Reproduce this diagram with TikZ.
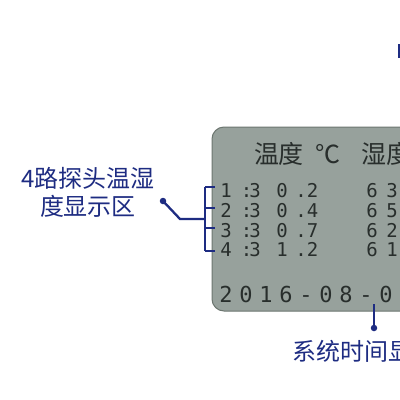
\documentclass[tikz,border=0pt]{standalone}
\usepackage{fontspec}
\newfontfamily\cjk{Noto Sans CJK SC}
\newfontfamily\lcdfont{DejaVu Sans Mono}
\definecolor{labelblue}{RGB}{30,44,130}
\definecolor{lcdfill}{RGB}{151,161,156}
\definecolor{lcdedge}{RGB}{108,118,112}
\definecolor{lcdtext}{RGB}{40,46,44}
\tikzset{
  callout/.style={labelblue, line width=2.3pt},
  dotend/.style={circle, fill=labelblue, inner sep=0pt, minimum size=6.5pt},
  bluelabel/.style={text=labelblue, font=\cjk\fontsize{24}{28}\selectfont, align=center},
  lcdhead/.style={text=lcdtext, font=\cjk\fontsize{25}{25}\selectfont, inner sep=0pt},
  lcdchar/.style={text=lcdtext, font=\lcdfont\fontsize{19}{19}\selectfont, anchor=base, inner sep=0pt},
  datechar/.style={lcdchar, font=\lcdfont\fontsize{22}{22}\selectfont},
}
\begin{document}
\begin{tikzpicture}[x=1pt,y=-1pt]
    \useasboundingbox (0,0) rectangle (400,400);
    \clip (0,0) rectangle (400,400);
    \fill[white] (0,0) rectangle (400,400);

    \fill[labelblue] (398,44) rectangle (401,58);% cut-off mark at the top edge

    % display panel, running past the right edge
    \draw[lcdedge, fill=lcdfill, line width=1pt, rounded corners=12pt]
        (212,127) rectangle (440,311);

    \node[lcdhead] (hwendu) at (279,154) {温度};
    \node[lcdhead] (hdeg) at (328,154) {℃};
    \node[lcdhead, anchor=west] (hshidu) at (361,154) {湿度};

    \foreach \r/\yb/\ty/\t/\u/\d/\h/\k in {1/197/187/3/0/2/6/3,
        2/217/208/3/0/4/6/5, 3/237/228/3/0/7/6/2, 4/256/251/3/1/2/6/1}{% one probe per row
      \foreach \x/\ch [count=\c] in {226/\r, 246.5/:, 255/\t, 282/\u,
          301/., 312.5/\d, 372/\h, 392/\k}{
        \node[lcdchar] (d\r-\c) at (\x,\yb) {\ch};
      }
      \coordinate (tick\r) at (205,\ty);
      \draw[callout] (tick\r) -- ++(10,0);
    }

    \foreach \ch [count=\i] in {2,0,1,6,-,0,8,-,0}{% date line
      \node[datechar] (date\i) at ({206+20*\i},302) {\ch};
    }

    % bracket and callout on the left
    \draw[callout] (tick1) -- (tick4);
    \coordinate (brmid) at (205,219);
    \coordinate (bend) at (180,219);
    \node[dotend] (probedot) at (163,201) {};
    \draw[callout] (probedot.center) -- (bend) -- (brmid);
    \node[bluelabel] (probelabel) at (88,192) {4路探头温湿\\度显示区};

    % callout under the date
    \coordinate (timetop) at (374,304);
    \node[dotend] (timedot) at (374,328) {};
    \draw[callout] (timetop) -- (timedot.center);
    \node[bluelabel, anchor=west] (timelabel) at (289,351) {系统时间显};
\end{tikzpicture}
\end{document}
